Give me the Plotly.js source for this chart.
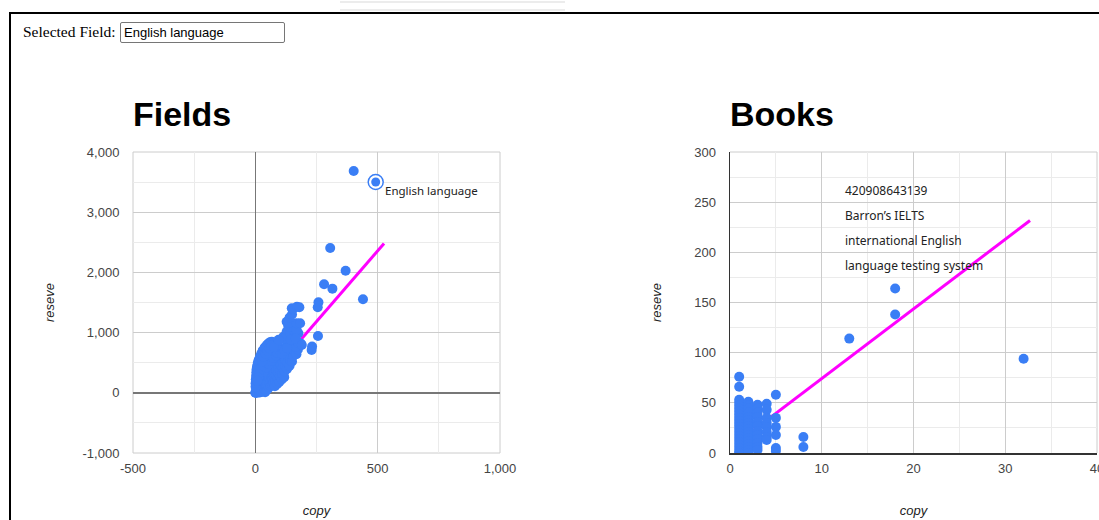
<!DOCTYPE html>
<html>
<head>
<meta charset="utf-8">
<script src="https://cdn.plot.ly/plotly-3.0.1.min.js"></script>
<style>
html,body{margin:0;padding:0;background:#fff;width:1099px;height:520px;overflow:hidden;}
#chart{position:absolute;left:0;top:0;width:1130px;height:520px;z-index:1;}
#frame{position:absolute;left:9px;top:12px;width:1200px;height:600px;border-left:2px solid #000;border-top:2px solid #000;z-index:2;pointer-events:none;}
#wm1{position:absolute;left:340px;top:1px;width:225px;height:6px;border-top:2px solid #ececec;border-bottom:2px solid #ececec;z-index:0;}
#lbl{position:absolute;left:23px;top:22px;line-height:20px;font-family:'Liberation Serif','Times New Roman',serif;font-size:15.5px;color:#000;z-index:3;}
#inp{position:absolute;left:120px;top:22px;width:165px;height:21px;box-sizing:border-box;border:1px solid #767676;border-radius:2px;padding:1px 3px;font-family:'Liberation Sans',Arial,sans-serif;font-size:13px;color:#000;background:#fff;z-index:3;}
</style>
</head>
<body>
<div id="wm1"></div>
<div id="chart"></div>
<div id="frame"></div>
<div id="lbl">Selected Field:</div>
<input id="inp" type="text" value="English language">
<script>
// ---------- DATA ----------
const fieldsTitle = 'Fields';
const booksTitle = 'Books';
const xTitle = 'copy';
const yTitle = 'reseve';
const selectedField = 'English language';

// Fields: [copy, reseve]
const fieldsPoints = [
 [0,0],[1,5],[2,12],[3,2],[4,25],[5,8],[6,40],[7,18],[8,3],[9,55],[10,30],[11,70],[12,10],[13,90],[14,45],[15,20],
 [16,110],[17,60],[18,5],[19,130],[20,80],[21,35],[22,150],[24,100],[25,15],[26,170],[28,120],[29,50],[30,190],[31,25],
 [32,140],[34,210],[35,75],[36,160],[38,230],[40,95],[40,10],[41,180],[43,250],[44,40],[45,120],[46,200],[48,270],[50,60],
 [50,145],[52,225],[54,300],[55,90],[57,170],[58,250],[60,330],[62,115],[63,200],[65,280],[66,360],[68,140],[70,230],
 [71,310],[72,400],[74,170],[76,260],[78,340],[79,440],[80,110],[82,200],[84,290],[86,380],[88,480],[90,150],[92,240],
 [94,330],[95,420],[96,520],[98,180],[100,280],[102,370],[104,460],[106,560],[108,220],[110,320],[112,410],[114,500],
 [116,600],[118,260],[120,360],[122,450],[124,540],[126,640],[130,400],[132,500],[134,590],[136,680],[140,450],[142,550],
 [144,640],[146,730],[150,520],[154,610],[158,700],[162,780],[168,640],[174,720],[180,800],[186,820],
 [1,100],[1,160],[2,220],[3,280],[4,340],[5,390],[7,440],[10,500],[14,550],[19,600],[24,650],[30,700],[38,750],[46,790],
 [53,820],[60,840],[67,850],[75,830],[85,800],[95,770],[105,740],[115,710],[125,760],[135,800],[145,820],[155,790],[165,760],
 [20,300],[25,400],[30,450],[35,350],[40,500],[45,420],[50,560],[55,480],[60,620],[65,530],[70,680],[75,580],[80,700],
 [85,620],[90,660],[100,700],[110,650],[120,700],[130,740],[20,400],[15,300],[12,250],[8,200],[28,520],[34,600],[42,650],
 [50,700],[58,740],[66,780],[76,760],
 [115,930],[130,900],[150,960],[128,1015],[142,988],[176,988],[176,822],[160,1020],[135,1100],[149,1098],[169,1043],
 [128,1181],[135,1154],[169,1154],[183,1155],[140,1250],[150,1300],[153,1387],[149,1404],[170,1430],[180,1420],
 [110,900],[95,880],[145,880],[165,900],
 [190,794],[230,711],[232,770],[256,943],[255,1420],[258,1505],[315,1730],[281,1802],[369,2028],[306,2405],[440,1553],
 [402,3684],[492,3502]
];
const selectedIndex = fieldsPoints.length - 1;
const fieldsTrendX = [0, 526];
const fieldsTrendY = [10, 2480];

// Books: [copy, reseve]
const booksPoints = [
 [1,76],[1,66],[1,53],[1,50],[1,47],[1,44],[1,41],[1,38],[1,35],[1,32],[1,29],[1,26],[1,23],[1,20],[1,17],[1,14],[1,11],[1,8],[1,5],[1,2],[1,0],
 [2,51],[2,47],[2,44],[2,40],[2,36],[2,33],[2,30],[2,27],[2,24],[2,21],[2,18],[2,15],[2,12],[2,9],[2,6],[2,3],[2,0],
 [3,48],[3,44],[3,40],[3,36],[3,31],[3,27],[3,22],[3,18],[3,14],[3,10],[3,6],[3,3],
 [4,49],[4,43],[4,35],[4,30],[4,26],[4,21],[4,16],[4,13],
 [5,58],[5,35],[5,26],[5,18],[5,5],[5,2],
 [8,16],[8,6],
 [13,114],[18,164],[18,138],[32,94]
];
const booksTrendX = [1, 32.7];
const booksTrendY = [11.7, 231.7];
const booksNote = ['420908643139', 'Barron\u2019s IELTS', 'international English', 'language testing system'];

// ticks
const fieldsXTicks = [-500, 0, 500, 1000];
const fieldsXLabels = ['-500', '0', '500', '1,000'];
const fieldsXMinor = [-250, 250, 750];
const fieldsYTicks = [-1000, 0, 1000, 2000, 3000, 4000];
const fieldsYLabels = ['-1,000', '0', '1,000', '2,000', '3,000', '4,000'];
const fieldsYMinor = [-500, 500, 1500, 2500, 3500];
const booksXTicks = [0, 10, 20, 30, 40];
const booksXLabels = ['0', '10', '20', '30', '40'];
const booksXMinor = [5, 15, 25, 35];
const booksYTicks = [0, 50, 100, 150, 200, 250, 300];
const booksYLabels = ['0', '50', '100', '150', '200', '250', '300'];
const booksYMinor = [25, 75, 125, 175, 225, 275];

// ---------- CHART ----------
const W = 1130, H = 520;
const BLUE = '#3a7ef5';
const MAG = '#ff00ff';
const px = v => v / W;
const py = v => (H - v) / H;

const traces = [
  {x: fieldsTrendX, y: fieldsTrendY, xaxis: 'x', yaxis: 'y', mode: 'lines', line: {color: MAG, width: 3}},
  {x: fieldsPoints.map(p => p[0]), y: fieldsPoints.map(p => p[1]), xaxis: 'x', yaxis: 'y', mode: 'markers',
   marker: {color: BLUE, size: 10}},
  {x: [fieldsPoints[selectedIndex][0]], y: [fieldsPoints[selectedIndex][1]], xaxis: 'x', yaxis: 'y', mode: 'markers',
   marker: {color: '#ffffff', size: 15, line: {color: BLUE, width: 1.5}}},
  {x: [fieldsPoints[selectedIndex][0]], y: [fieldsPoints[selectedIndex][1]], xaxis: 'x', yaxis: 'y', mode: 'markers',
   marker: {color: BLUE, size: 9}},
  {x: booksTrendX, y: booksTrendY, xaxis: 'x2', yaxis: 'y2', mode: 'lines', line: {color: MAG, width: 3}},
  {x: booksPoints.map(p => p[0]), y: booksPoints.map(p => p[1]), xaxis: 'x2', yaxis: 'y2', mode: 'markers',
   marker: {color: BLUE, size: 10}}
];

const tickFont = {family: 'Liberation Sans, Arial, sans-serif', size: 13, color: '#444'};
const titleFont = {family: 'Liberation Sans, Arial, sans-serif', size: 13, color: '#222', style: 'italic'};

function axis(extra) {
  return Object.assign({
    tickmode: 'array', showgrid: true, gridcolor: '#cccccc', gridwidth: 1,
    ticks: 'outside', tickcolor: 'rgba(0,0,0,0)', tickfont: tickFont,
    fixedrange: true, automargin: false
  }, extra);
}

const edge = (xr, yr, x0, y0, x1, y1) => ({type: 'line', xref: xr, yref: yr, x0: x0, y0: y0, x1: x1, y1: y1,
  line: {color: '#cccccc', width: 1}, layer: 'below'});

const layout = {
  width: W, height: H,
  margin: {l: 0, r: 0, t: 0, b: 0, pad: 0},
  paper_bgcolor: 'rgba(0,0,0,0)', plot_bgcolor: '#ffffff',
  showlegend: false,
  font: {family: 'Liberation Sans, Arial, sans-serif', size: 13, color: '#444'},
  xaxis: axis({domain: [px(133), px(500)], range: [-500, 1000], anchor: 'y',
    tickvals: fieldsXTicks, ticktext: fieldsXLabels, ticklen: 3,
    minor: {tickmode: 'array', tickvals: fieldsXMinor, showgrid: true, gridcolor: '#ebebeb', ticks: ''},
    zeroline: true, zerolinecolor: '#777777', zerolinewidth: 1.5,
    title: {text: xTitle, font: titleFont, standoff: 31}}),
  yaxis: axis({domain: [py(453), py(152)], range: [-1000, 4000], anchor: 'x',
    tickvals: fieldsYTicks, ticktext: fieldsYLabels, ticklen: 10,
    minor: {tickmode: 'array', tickvals: fieldsYMinor, showgrid: true, gridcolor: '#ebebeb', ticks: ''},
    zeroline: true, zerolinecolor: '#777777', zerolinewidth: 1.5,
    title: {text: yTitle, font: titleFont, standoff: 24}}),
  xaxis2: axis({domain: [px(730), px(1097)], range: [0, 40], anchor: 'y2',
    tickvals: booksXTicks, ticktext: booksXLabels, ticklen: 3,
    minor: {tickmode: 'array', tickvals: booksXMinor, showgrid: true, gridcolor: '#ebebeb', ticks: ''},
    zeroline: false, showline: true, linecolor: '#333333', linewidth: 1.5,
    title: {text: xTitle, font: titleFont, standoff: 31}}),
  yaxis2: axis({domain: [py(453), py(152)], range: [0, 300], anchor: 'x2',
    tickvals: booksYTicks, ticktext: booksYLabels, ticklen: 10,
    minor: {tickmode: 'array', tickvals: booksYMinor, showgrid: true, gridcolor: '#ebebeb', ticks: ''},
    zeroline: false, showline: true, linecolor: '#333333', linewidth: 1.5,
    title: {text: yTitle, font: titleFont, standoff: 29}}),
  shapes: [
    edge('x domain', 'y domain', 0, 0, 1, 0), edge('x domain', 'y domain', 0, 1, 1, 1),
    edge('x domain', 'y domain', 0, 0, 0, 1), edge('x domain', 'y domain', 1, 0, 1, 1),
    edge('x2 domain', 'y2 domain', 0, 1, 1, 1), edge('x2 domain', 'y2 domain', 1, 0, 1, 1)
  ],
  annotations: [
    {text: '<b>' + fieldsTitle + '</b>', xref: 'paper', yref: 'paper', x: px(131), y: py(114),
     xanchor: 'left', yanchor: 'middle', showarrow: false,
     font: {family: 'Liberation Sans, Arial, sans-serif', size: 34, color: '#000'}},
    {text: '<b>' + booksTitle + '</b>', xref: 'paper', yref: 'paper', x: px(728), y: py(114),
     xanchor: 'left', yanchor: 'middle', showarrow: false,
     font: {family: 'Liberation Sans, Arial, sans-serif', size: 34, color: '#000'}},
    {text: selectedField, xref: 'x', yref: 'y', x: fieldsPoints[selectedIndex][0], y: fieldsPoints[selectedIndex][1],
     xanchor: 'left', yanchor: 'top', xshift: 7, yshift: 1, showarrow: false,
     font: {family: 'Noto Sans, sans-serif', size: 11.5, color: '#222'}}
  ].concat(booksNote.map((t, i) => ({
     text: t, xref: 'paper', yref: 'paper', x: px(843), y: py(190 + 25 * i),
     xanchor: 'left', yanchor: 'middle', showarrow: false,
     font: {family: 'Noto Sans, sans-serif', size: 12, color: '#222'}})))
};

Plotly.newPlot('chart', traces, layout, {displayModeBar: false, staticPlot: true});
</script>
</body>
</html>
